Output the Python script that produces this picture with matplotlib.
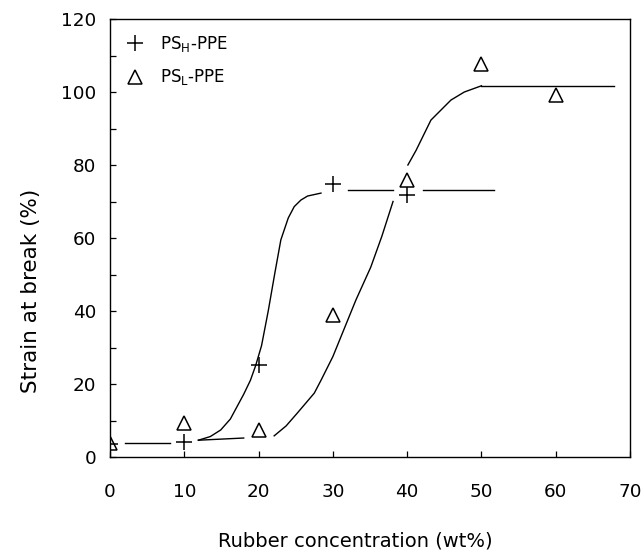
import matplotlib
matplotlib.use("Agg")
import matplotlib.pyplot as plt
from matplotlib.ticker import MultipleLocator

# measured points
conc = [0, 10, 20, 30, 40]
strain_psh = [3.5, 4.0, 25.3, 74.8, 71.8]

conc_l = [0, 10, 20, 30, 40, 50, 60]
strain_psl = [3.7, 9.2, 7.4, 38.9, 75.9, 107.7, 99.2]

# guide-to-the-eye curves (broken around markers)
curve_psh = [
    [(2.0, 3.7), (8.1, 3.7)],
    [(11.9, 4.6), (13.5, 5.6), (14.9, 7.4), (16.2, 10.4), (17.1, 13.8),
     (18.0, 17.2), (18.9, 21.0), (19.6, 25.0), (20.4, 30.5), (21.3, 40.0),
     (22.2, 50.5), (23.0, 59.5), (24.0, 65.5), (24.8, 68.6), (25.7, 70.4),
     (26.6, 71.5), (28.4, 72.3)],
    [(32.0, 73.2), (38.1, 73.2)],
    [(42.1, 73.2), (51.7, 73.2)],
]
curve_psl = [
    [(11.9, 4.6), (18.0, 5.2)],
    [(22.1, 5.8), (23.7, 8.5), (25.2, 12.0), (27.5, 17.5), (28.4, 21.0),
     (30.0, 27.5), (31.5, 35.0), (33.1, 43.0), (35.1, 52.0), (36.6, 60.5),
     (38.1, 70.0)],
    [(40.1, 80.0), (41.2, 84.0), (43.2, 92.3), (45.9, 97.8), (47.7, 100.0),
     (50.0, 101.7)],
    [(50.0, 101.7), (67.8, 101.7)],
]

plt.rcParams['font.family'] = ['DejaVu Sans']
plt.rcParams['mathtext.fontset'] = 'dejavusans'

fig = plt.figure(figsize=(6.43, 5.54), dpi=100)
ax = fig.add_axes([110 / 643, 1 - 457 / 554, 520 / 643, 438 / 554])

for seg in curve_psh + curve_psl:
    xs, ys = zip(*seg)
    ax.plot(xs, ys, color='black', lw=1.0)

ax.plot(conc, strain_psh, ls='none', marker='+', ms=11, mew=1.1,
        color='black', label=r'PS$_\mathregular{H}$-PPE')
ax.plot(conc_l, strain_psl, ls='none', marker='^', ms=10, mew=1.1,
        mfc='none', mec='black', label=r'PS$_\mathregular{L}$-PPE')

ax.set_xlim(0, 70)
ax.set_ylim(0, 120)
ax.xaxis.set_major_locator(MultipleLocator(10))
ax.yaxis.set_major_locator(MultipleLocator(20))
ax.yaxis.set_minor_locator(MultipleLocator(10))
ax.tick_params(which='both', direction='in', length=4.5, width=0.9,
               labelsize=13.2, top=False, right=False)
ax.tick_params(axis='x', pad=19)
ax.tick_params(axis='y', pad=10)
for s in ax.spines.values():
    s.set_linewidth(1.0)

ax.set_xlabel('Rubber concentration (wt%)', fontsize=14, labelpad=22)
ax.set_ylabel('Strain at break (%)', fontsize=15.5, labelpad=14)
# labels sit a bit off-centre in the original
ax.xaxis.label.set_x(0.471)
ax.yaxis.label.set_y(0.379)

ax.legend(loc='upper left', frameon=False, fontsize=12, handletextpad=0.9,
          labelspacing=0.8, borderaxespad=0.3, handlelength=1.2,
          borderpad=0.6)

fig.savefig('out.png', dpi=100)
